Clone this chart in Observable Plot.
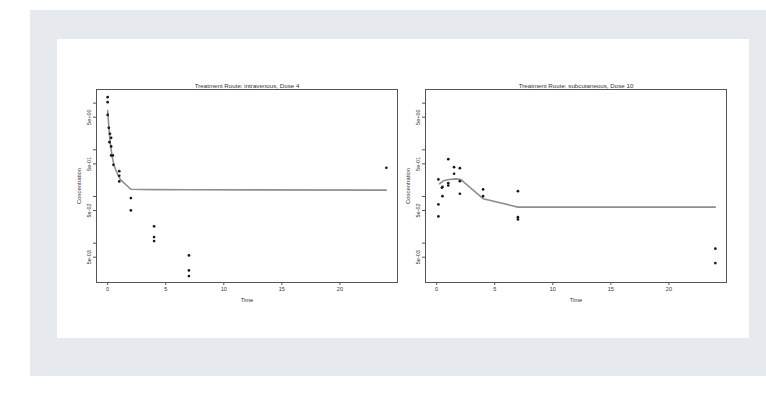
<!DOCTYPE html>
<html>
<head>
<meta charset="utf-8">
<script src="https://cdn.jsdelivr.net/npm/d3@7"></script>
<script src="https://cdn.jsdelivr.net/npm/@observablehq/plot@0.6"></script>
<style>
  html, body { margin: 0; padding: 0; background: #ffffff; width: 766px; height: 404px; overflow: hidden; }
  #bg { position: absolute; left: 30px; top: 10px; width: 736px; height: 366px; background: #e6e9ed; }
  #panel { position: absolute; left: 57px; top: 39px; width: 692px; height: 299px; background: #ffffff; }
  .chart { position: absolute; top: 39px; }
  .chart svg { overflow: visible; }
</style>
</head>
<body>
<div id="bg"></div>
<div id="panel"></div>
<div id="left" class="chart" style="left:57px"></div>
<div id="right" class="chart" style="left:386px"></div>
<script>
// Intravenous, Dose 4: observations
const ivTime = [0, 0, 0, 0.1, 0.2, 0.3, 0.15, 0.3, 0.3, 0.45, 0.5, 1, 1, 1, 2, 2, 4, 4, 4, 7, 7, 7, 24];
const ivConc = [13.4, 10.5, 5.6, 2.96, 2.21, 1.81, 1.46, 1.18, 0.757, 0.757, 0.478, 0.349, 0.278, 0.21, 0.0923, 0.0503, 0.0229, 0.0135, 0.0111, 0.00547, 0.00261, 0.00197, 0.413];
// Intravenous fitted curve
const ivFitTime = [0, 0.083, 0.2, 0.35, 0.55, 0.9, 1.1, 2, 4, 7, 24];
const ivFitConc = [6.95, 3.61, 1.58, 0.82, 0.46, 0.282, 0.229, 0.143, 0.14, 0.139, 0.137];

// Subcutaneous, Dose 10: observations
const scTime = [0.15, 0.15, 0.15, 0.45, 0.5, 0.5, 1, 1, 1, 1.5, 1.5, 2, 2, 2, 4, 4, 7, 7, 7, 24, 24];
const scConc = [0.232, 0.0676, 0.0374, 0.154, 0.16, 0.1017, 0.631, 0.193, 0.172, 0.425, 0.307, 0.404, 0.213, 0.1145, 0.1416, 0.1017, 0.13, 0.0361, 0.0322, 0.0076, 0.00374];
// Subcutaneous fitted curve
const scFitTime = [0.25, 0.65, 1.08, 1.65, 2.06, 4, 7, 24];
const scFitConc = [0.1875, 0.221, 0.232, 0.238, 0.232, 0.0896, 0.0592, 0.0592];

// Axes
const xTicks = [0, 5, 10, 15, 20];
const yTicks = [10, 5, 1, 0.5, 0.1, 0.05, 0.01, 0.005];
const yLabelValues = [5, 0.5, 0.05, 0.005];
const yTickLabels = ["5e+00", "5e-01", "5e-02", "5e-03"];
const titles = ["Treatment Route: intravenous, Dose 4", "Treatment Route: subcutaneous, Dose 10"];
const xLabel = "Time";
const yLabel = "Concentration";

function panel(time, conc, fitTime, fitConc, title) {
  const obs = time.map((t, i) => ({t, c: conc[i]}));
  const fit = fitTime.map((t, i) => ({t, c: fitConc[i]}));
  const ylab = yLabelValues.map((v, i) => ({v, s: yTickLabels[i]}));
  return Plot.plot({
    width: 345,
    height: 299,
    marginLeft: 39,
    marginRight: 5,
    marginTop: 50,
    marginBottom: 56,
    style: {fontFamily: "'Liberation Sans', Arial, sans-serif", fontSize: "5.5px", background: "transparent", color: "#333"},
    x: {domain: [-0.96, 24.96]},
    y: {type: "log", domain: [0.001435, 19.61]},
    marks: [
      Plot.frame({stroke: "#555", strokeWidth: 1}),
      Plot.axisX({ticks: xTicks, tickSize: 3, tickPadding: 2, label: null, stroke: "#555"}),
      Plot.axisY({ticks: yTicks, tickSize: 3, tickFormat: () => "", label: null, stroke: "#555"}),
      Plot.text(ylab, {y: "v", text: "s", frameAnchor: "left", dx: -6, rotate: -90, textAnchor: "middle", lineAnchor: "bottom", fontSize: 5.5, fill: "#333"}),
      Plot.line(fit, {x: "t", y: "c", stroke: "#8f8f8f", strokeWidth: 1.6}),
      Plot.dot(obs, {x: "t", y: "c", r: 1.35, fill: "#1a1a1a", stroke: null}),
      Plot.text([title], {frameAnchor: "top", text: d => d, dy: -1.5, lineAnchor: "bottom", fontSize: 6.2, fill: "#333"}),
      Plot.text([xLabel], {frameAnchor: "bottom", text: d => d, dy: 17.7, textAnchor: "middle", lineAnchor: "middle", fontSize: 5.8, fill: "#333"}),
      Plot.text([yLabel], {frameAnchor: "left", text: d => d, dx: -17, rotate: -90, textAnchor: "middle", lineAnchor: "middle", fontSize: 5.8, fill: "#333"})
    ]
  });
}

document.getElementById("left").append(panel(ivTime, ivConc, ivFitTime, ivFitConc, titles[0]));
document.getElementById("right").append(panel(scTime, scConc, scFitTime, scFitConc, titles[1]));
</script>
</body>
</html>
